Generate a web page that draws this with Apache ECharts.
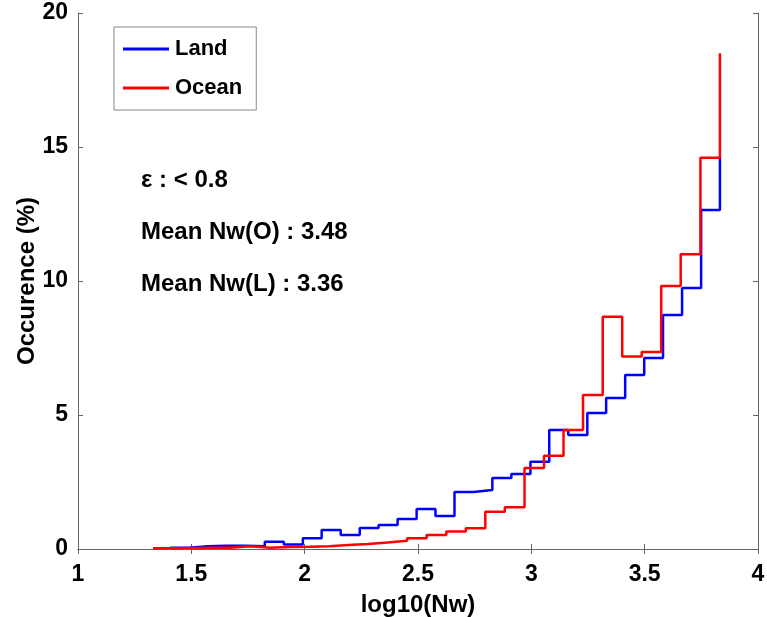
<!DOCTYPE html>
<html>
<head>
<meta charset="utf-8">
<script src="https://cdn.jsdelivr.net/npm/echarts@6/dist/echarts.min.js"></script>
<style>
html,body{margin:0;padding:0;background:#fff;}
#chart{width:767px;height:617px;}
</style>
</head>
<body>
<div id="chart"></div>
<script>
// Bin edges (log10(Nw)) and occurrence values (%).
const oceanEdges = [1.331,1.417,1.503,1.590,1.676,1.762,1.848,1.935,2.021,2.107,2.193,2.280,2.366,2.452,2.538,2.625,2.711,2.797,2.883,2.970,3.056,3.142,3.228,3.315,3.401,3.487,3.573,3.659,3.746,3.832];
const oceanValues = [0.03,0.04,0.05,0.05,0.10,0.05,0.07,0.08,0.10,0.15,0.19,0.24,0.31,0.40,0.52,0.65,0.77,1.39,1.56,3.02,3.48,4.44,5.75,8.67,7.18,7.35,9.81,11.0,14.6,18.5];
const landEdges = [1.406,1.490,1.573,1.657,1.741,1.824,1.908,1.992,2.075,2.159,2.243,2.326,2.410,2.494,2.577,2.661,2.745,2.828,2.912,2.996,3.079,3.163,3.247,3.330,3.414,3.498,3.581,3.665,3.749,3.832];
const landValues = [0.05,0.10,0.12,0.12,0.10,0.27,0.17,0.40,0.71,0.52,0.78,0.90,1.12,1.49,1.23,2.13,2.20,2.65,2.80,3.26,4.44,4.25,5.07,5.63,6.49,7.13,8.73,9.74,12.65,14.6];
const xTicks = {min: 1, max: 4, interval: 0.5};
const yTicks = {min: 0, max: 20, interval: 5};
const annotations = ['ε : < 0.8', 'Mean Nw(O) : 3.48', 'Mean Nw(L) : 3.36'];

const zip = (xs, ys) => xs.map((x, i) => [x, ys[i]]);
const font = '"Liberation Sans", Arial, sans-serif';
const axisLine = {show: true, lineStyle: {color: '#666', width: 1}};
const axisTick = {show: true, inside: true, length: 5, lineStyle: {color: '#666'}};
const labelStyle = {color: '#000', fontFamily: font, fontWeight: 'bold', fontSize: 23};

const chart = echarts.init(document.getElementById('chart'));
chart.setOption({
  animation: false,
  backgroundColor: '#fff',
  grid: {left: 78, right: 9, top: 13, bottom: 68, containLabel: false, outerBoundsMode: 'none'},
  legend: {
    orient: 'vertical', left: 114, top: 27,
    padding: [10, 14, 10, 9],
    borderColor: '#888', borderWidth: 1,
    itemWidth: 46, itemHeight: 3, itemGap: 15,
    icon: 'rect',
    textStyle: {color: '#000', fontFamily: font, fontWeight: 'bold', fontSize: 22, lineHeight: 24, padding: [0, 0, 0, 1]},
    data: ['Land', 'Ocean']
  },
  xAxis: [{
    type: 'value', min: xTicks.min, max: xTicks.max, interval: xTicks.interval,
    name: 'log10(Nw)', nameLocation: 'middle', nameGap: 44, nameMoveOverlap: false,
    nameTextStyle: {color: '#000', fontFamily: font, fontWeight: 'bold', fontSize: 24},
    axisLine, axisTick, axisLabel: Object.assign({margin: 14}, labelStyle),
    splitLine: {show: false}
  }, {
    type: 'value', position: 'top', min: xTicks.min, max: xTicks.max, interval: xTicks.interval,
    axisLine, axisTick, axisLabel: {show: false}, splitLine: {show: false}
  }],
  yAxis: [{
    type: 'value', min: yTicks.min, max: yTicks.max, interval: yTicks.interval,
    name: 'Occurence (%)', nameLocation: 'middle', nameGap: 39, nameRotate: 90, nameMoveOverlap: false,
    nameTextStyle: {color: '#000', fontFamily: font, fontWeight: 'bold', fontSize: 24},
    axisLine, axisTick,
    axisLabel: Object.assign({margin: 10}, labelStyle),
    splitLine: {show: false}
  }, {
    type: 'value', position: 'right', min: yTicks.min, max: yTicks.max, interval: yTicks.interval,
    axisLine, axisTick, axisLabel: {show: false}, splitLine: {show: false}
  }],
  graphic: annotations.map((t, i) => ({
    type: 'text', left: 141, top: 168 + i * 52,
    style: {text: t, fill: '#000', font: 'bold 24px ' + font}
  })),
  series: [{
    name: 'Land', type: 'line', step: 'end', data: zip(landEdges, landValues),
    showSymbol: false, color: '#0000ff', lineStyle: {width: 2.5, color: '#0000ff'}, z: 2
  }, {
    name: 'Ocean', type: 'line', step: 'end', data: zip(oceanEdges, oceanValues),
    showSymbol: false, color: '#ff0000', lineStyle: {width: 2.5, color: '#ff0000'}, z: 3
  }]
});
</script>
</body>
</html>
